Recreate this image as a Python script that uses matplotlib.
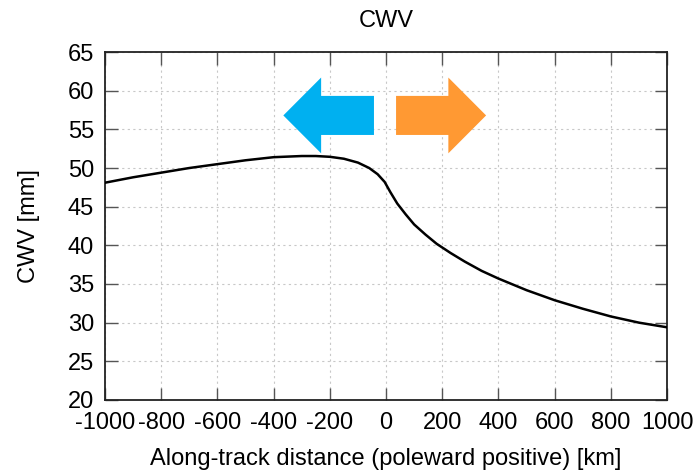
import numpy as np
import matplotlib
matplotlib.use('Agg')
from matplotlib import pyplot as plt
from matplotlib.patches import FancyArrow

plt.rcParams['font.family'] = ['Liberation Sans', 'DejaVu Sans']

# along-track distance [km] and CWV [mm]
dist = [-1000, -900, -800, -700, -600, -500, -400, -300, -250, -200, -150,
        -100, -60, -30, -5, 15, 40, 70, 100, 140, 180, 230, 280, 340,
        400, 500, 600, 700, 800, 900, 1000]
cwv = [48.1, 48.8, 49.4, 50.0, 50.5, 51.0, 51.4, 51.55, 51.55, 51.45, 51.2,
       50.7, 50.0, 49.2, 48.2, 46.9, 45.4, 44.0, 42.7, 41.4, 40.2, 39.0, 37.9, 36.7,
       35.7, 34.2, 32.9, 31.8, 30.8, 30.0, 29.4]

xticks = list(range(-1000, 1001, 200))
yticks = list(range(20, 66, 5))

fig = plt.figure(figsize=(7, 4.76), dpi=100)
ax = fig.add_axes([0.15, 0.1597, 0.803, 0.731])

ax.plot(dist, cwv, color='black', lw=1.8, zorder=3)

# direction arrows (equatorward / poleward)
ax.add_patch(FancyArrow(-43, 56.8, -322.5, 0, width=5.05, head_width=9.8,
                        head_length=134.5, length_includes_head=True,
                        color='#00B0F0', lw=0, zorder=4))
ax.add_patch(FancyArrow(35.6, 56.8, 320.4, 0, width=5.05, head_width=9.8,
                        head_length=134.3, length_includes_head=True,
                        color='#FF9933', lw=0, zorder=4))

ax.set_xlim(-1000, 1000)
ax.set_ylim(20, 65)
ax.set_xticks(xticks)
ax.set_yticks(yticks)
ax.set_xticklabels([str(t) for t in xticks])
ax.grid(True, color='#c8c8c8', linestyle=(0, (2, 3)), lw=0.8)
ax.tick_params(direction='in', length=9, width=1.0, color='#555555',
               top=True, right=True, labelsize=17)
ax.tick_params(axis='y', pad=8)
ax.tick_params(axis='x', pad=9)
for s in ax.spines.values():
    s.set_linewidth(1.3)
    s.set_color('#222222')

ax.set_title('CWV', fontsize=17, pad=18)
ax.set_xlabel('Along-track distance (poleward positive) [km]', fontsize=17, labelpad=10)
ax.set_ylabel('CWV [mm]', fontsize=17, labelpad=20)

plt.savefig('out.png', dpi=100)
